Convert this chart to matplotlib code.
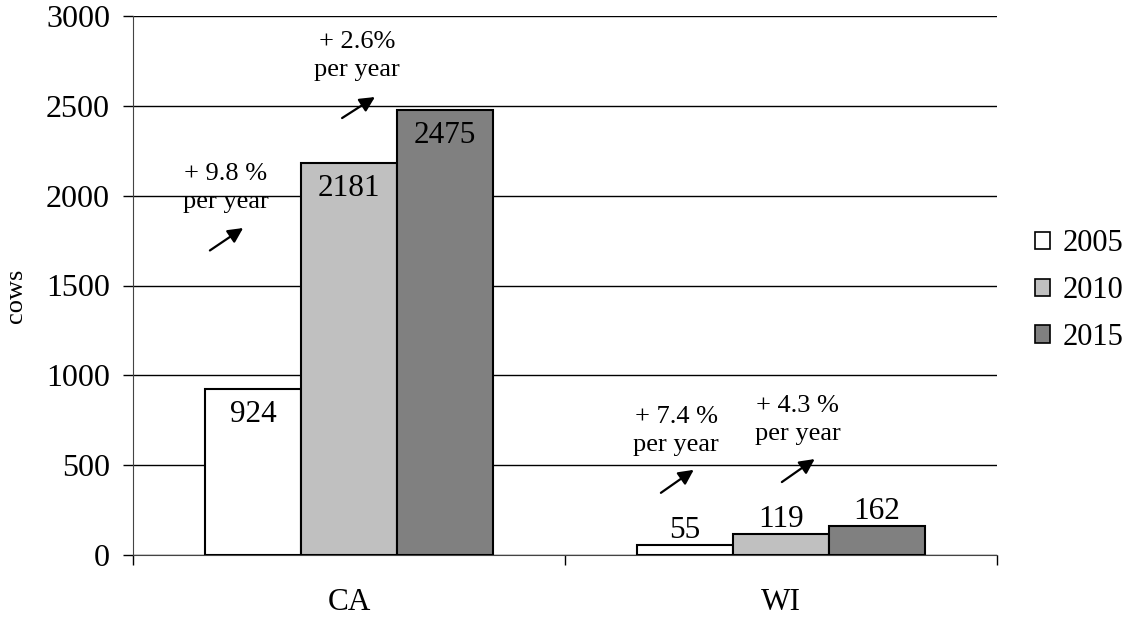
import matplotlib
matplotlib.use("Agg")
import matplotlib.pyplot as plt
import numpy as np

plt.rcParams['font.family'] = ['Liberation Serif', 'DejaVu Serif']

# herd size by state and year
states = ["CA", "WI"]
years = ["2005", "2010", "2015"]
cows_2005 = [924, 55]
cows_2010 = [2181, 119]
cows_2015 = [2475, 162]
colors = ["#FFFFFF", "#C0C0C0", "#808080"]

# growth notes: text, text anchor (x, y), arrow tail, arrow tip
growth_text = ["+ 9.8 %\nper year", "+ 2.6%\nper year", "+ 7.4 %\nper year", "+ 4.3 %\nper year"]
growth_xy = [(0.215, 2045), (0.519, 2775), (1.257, 690), (1.539, 750)]
arrow_from = [(0.178, 1695), (0.484, 2432), (1.222, 346), (1.502, 406)]
arrow_to = [(0.255, 1820), (0.560, 2549), (1.298, 474), (1.578, 534)]

fig = plt.figure(figsize=(11.28, 6.17), dpi=100)
ax = fig.add_axes([133 / 1128, 1 - 555 / 617, 864 / 1128, 539 / 617])

width = 0.2222
centers = np.array([0.5, 1.5])
series = [cows_2005, cows_2010, cows_2015]
for i, vals in enumerate(series):
    xs = centers + (i - 1) * width
    ax.bar(xs, vals, width, color=colors[i], edgecolor="black",
           linewidth=1.5, label=years[i], zorder=3)
    for x, v in zip(xs, vals):
        if v > 500:
            ax.annotate(str(v), (x, v), xytext=(0, -8), textcoords="offset points",
                        ha="center", va="top", fontsize=22.5, zorder=4)
        else:
            ax.annotate(str(v), (x, v), xytext=(0, 0), textcoords="offset points",
                        ha="center", va="bottom", fontsize=22.5, zorder=4)

for txt, xy, a0, a1 in zip(growth_text, growth_xy, arrow_from, arrow_to):
    ax.text(xy[0], xy[1], txt, ha="center", va="center", fontsize=19,
            linespacing=1.35)
    ax.annotate("", xy=a1, xytext=a0,
                arrowprops=dict(arrowstyle="-|>,head_length=0.9,head_width=0.45",
                                color="black", lw=1.6, shrinkA=0, shrinkB=0))

ax.set_xlim(0, 2)
ax.set_ylim(0, 3000)
ax.set_yticks(np.arange(0, 3001, 500))
ax.tick_params(axis="y", labelsize=23, length=7.5, width=1, direction="out", pad=9)
ax.set_xticks([0, 1, 2])
ax.set_xticklabels([])
ax.set_xticks(centers, minor=True)
ax.set_xticklabels(states, minor=True)
ax.tick_params(axis="x", which="major", length=7, width=1, direction="out")
ax.tick_params(axis="x", which="minor", length=0, labelsize=22.5, pad=24)

ax.grid(axis="y", color="black", linewidth=1, zorder=0)
ax.spines["top"].set_visible(False)
ax.spines["right"].set_visible(False)
ax.spines["left"].set_color("#444444")
ax.spines["bottom"].set_color("#444444")
ax.set_ylabel("cows", fontsize=19, labelpad=14, y=0.48)

leg = ax.legend(loc="center left", bbox_to_anchor=(0.904, 0.529),
                bbox_transform=fig.transFigure, frameon=False, fontsize=22,
                handlelength=0.49, handleheight=0.49, handletextpad=0.43,
                labelspacing=0.58, borderpad=0)
for h in leg.legend_handles:
    h.set_linewidth(1.2)

fig.savefig("out.png", dpi=100)
